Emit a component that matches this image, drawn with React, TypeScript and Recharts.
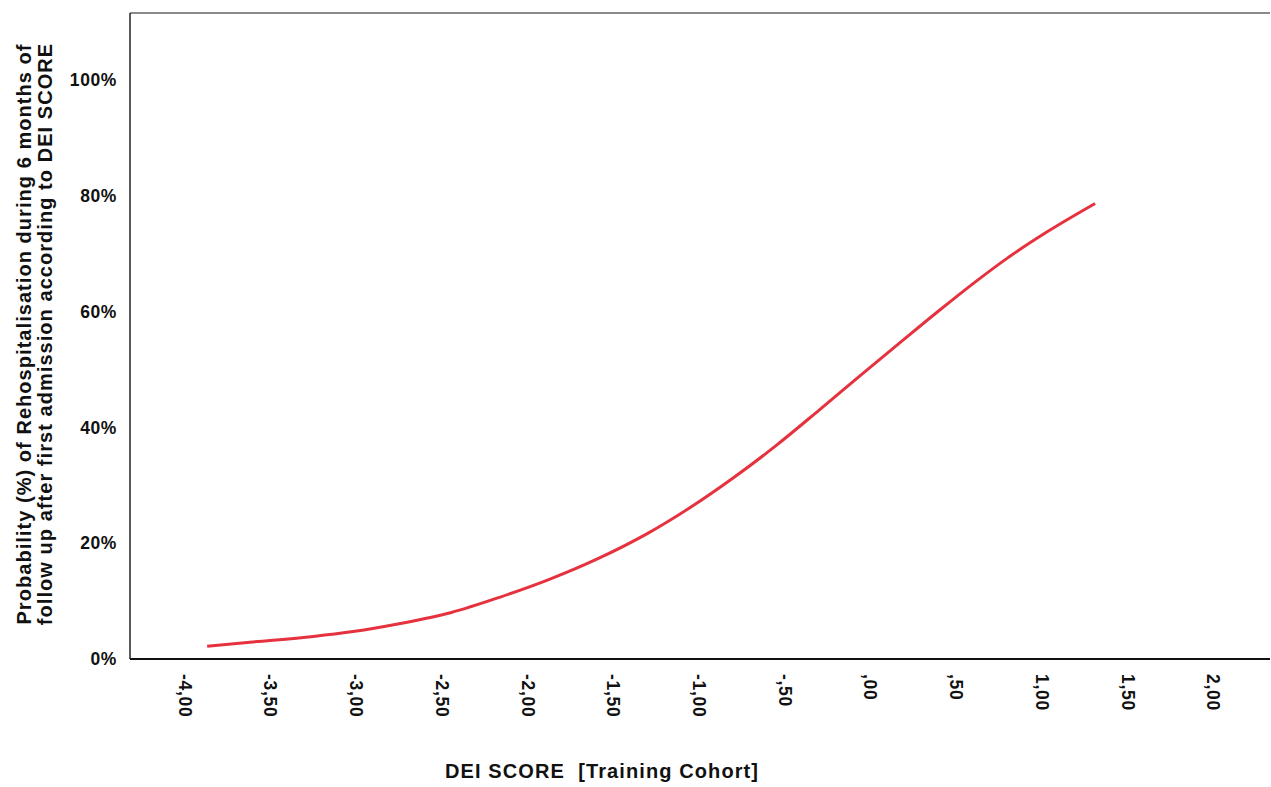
import { LineChart, Line, XAxis, YAxis, ReferenceLine } from 'recharts'

// DEI score (x) and predicted probability in % (y)
const deiScore = [-3.87, -3.62, -3.25, -3.03, -2.75, -2.45, -2.16, -1.87, -1.6, -1.3, -1.05, -0.8, -0.55, -0.3, -0.05, 0.17, 0.4, 0.6, 0.8, 1.03, 1.31]
const probability = [2.2, 2.9, 3.9, 4.7, 6.1, 8.0, 10.7, 13.8, 17.2, 21.7, 26.2, 31.3, 36.9, 43.0, 49.2, 54.6, 60.2, 64.9, 69.3, 73.8, 78.7]

const xTicks = [-4, -3.5, -3, -2.5, -2, -1.5, -1, -0.5, 0, 0.5, 1, 1.5, 2]
const yTicks = [0, 20, 40, 60, 80, 100]

const yTitle = [
  'Probability (%) of Rehospitalisation during 6 months of',
  'follow up after first admission according to DEI SCORE',
]
const xTitle = 'DEI SCORE  [Training Cohort]'

const X_MIN = -4.32
const X_MAX = 2.33
const Y_MAX = 111.6

const FONT = '"Liberation Sans", Arial, sans-serif'

const data = deiScore.map((x, i) => ({ x, p: probability[i] }))

// SPSS style: comma decimal, no leading zero
const formatScore = (v: number) => {
  const s = Math.abs(v).toFixed(2).replace('.', ',')
  const t = s.startsWith('0') ? s.slice(1) : s
  return (v < 0 ? '-' : '') + t
}

const XTick = ({ x, y, payload }: any) => (
  <g transform={`translate(${x},${y})`}>
    <text
      transform="rotate(90)"
      x={15}
      y={0}
      dy="0.35em"
      textAnchor="start"
      fontFamily={FONT}
      fontSize={17.5}
      fontWeight="bold"
      letterSpacing={0.7}
      fill="#111"
    >
      {formatScore(payload.value)}
    </text>
  </g>
)

const YTick = ({ x, y, payload }: any) => (
  <text
    x={x - 13}
    y={y}
    dy="0.35em"
    textAnchor="end"
    fontFamily={FONT}
    fontSize={17.5}
    fontWeight="bold"
    letterSpacing={0.6}
    fill="#111"
  >
    {payload.value}%
  </text>
)

export default function App() {
  return (
    <div style={{ position: 'absolute', left: 0, top: 0, background: '#fff' }}>
      <LineChart width={1271} height={787} data={data} margin={{ top: 13, right: 1, bottom: 0, left: 0 }}>
        <XAxis
          dataKey="x"
          type="number"
          domain={[X_MIN, X_MAX]}
          ticks={xTicks}
          height={128}
          tickLine={false}
          tickSize={0}
          tickMargin={0}
          tick={<XTick />}
          axisLine={{ stroke: '#111', strokeWidth: 2 }}
          allowDataOverflow
          label={{
            content: () => (
              <text
                x={445}
                y={778}
                fontFamily={FONT}
                fontSize={20}
                fontWeight="bold"
                letterSpacing={1.1}
                fill="#111"
                style={{ whiteSpace: 'pre' }}
              >
                {xTitle}
              </text>
            ),
          }}
        />
        <YAxis
          type="number"
          domain={[0, Y_MAX]}
          ticks={yTicks}
          width={130}
          tickLine={false}
          tickSize={0}
          tickMargin={0}
          tick={<YTick />}
          axisLine={{ stroke: '#222', strokeWidth: 1.5 }}
          allowDataOverflow
          label={{
            content: () => (
              <text
                transform="translate(31,334) rotate(-90)"
                textAnchor="middle"
                fontFamily={FONT}
                fontSize={20}
                fontWeight="bold"
                letterSpacing={1.05}
                fill="#111"
              >
                <tspan x={0} dy={0}>{yTitle[0]}</tspan>
                <tspan x={0} dy={21}>{yTitle[1]}</tspan>
              </text>
            ),
          }}
        />
        <ReferenceLine y={Y_MAX} stroke="#8a8a8a" strokeWidth={2} />
        <Line
          type="monotone"
          dataKey="p"
          stroke="#e6323e"
          strokeWidth={3}
          dot={false}
          isAnimationActive={false}
        />
      </LineChart>
    </div>
  )
}
